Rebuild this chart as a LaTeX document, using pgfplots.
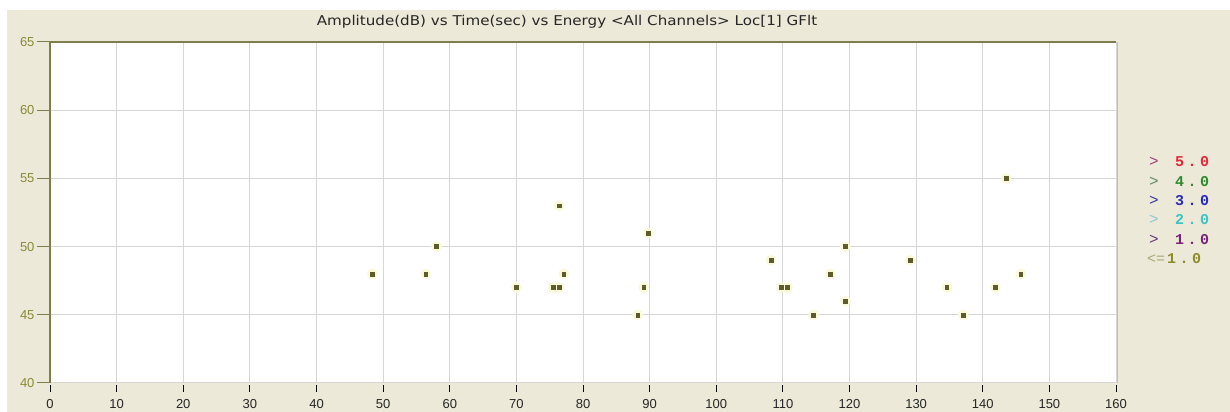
\documentclass[border=0pt]{standalone}
\usepackage{fontspec}
\setmainfont{Liberation Sans}
\newfontfamily\legfont[LetterSpace=23]{Liberation Mono}
\newfontfamily\legplain{Liberation Mono}
\newfontfamily\titlefont{DejaVu Sans}
\usepackage{pgfplots}
\pgfplotsset{compat=1.18}
\definecolor{bgbeige}{HTML}{ECE9D8}
\definecolor{gridgray}{HTML}{D6D6D6}
\definecolor{axolive}{HTML}{7E7E4C}
\definecolor{ticklab}{HTML}{8A8A3A}
\definecolor{ptcol}{HTML}{5C5C2E}
\definecolor{halo}{HTML}{FAFAD8}
\definecolor{lgred}{HTML}{E0283A}
\definecolor{lgredg}{HTML}{A0407A}
\definecolor{lggreen}{HTML}{2E8A2E}
\definecolor{lggreeng}{HTML}{5E8A6E}
\definecolor{lgblue}{HTML}{2A2AB8}
\definecolor{lgblueg}{HTML}{3A3A9A}
\definecolor{lgcyan}{HTML}{3CC4C4}
\definecolor{lgcyang}{HTML}{8EC8D0}
\definecolor{lgpurple}{HTML}{7A2478}
\definecolor{lgpurpleg}{HTML}{6A3A7A}
\definecolor{lgolive}{HTML}{8C8C2C}
\definecolor{lgoliveg}{HTML}{A8A878}
\pgfplotstableread{
x y
48.4 48
56.4 48
58.0 50
70.0 47
75.5 47
76.4 47
76.4 53
77.1 48
88.2 45
89.1 47
89.8 51
108.2 49
109.8 47
110.7 47
114.6 45
117.1 48
119.4 50
119.4 46
129.1 49
134.6 47
137.1 45
141.9 47
143.5 55
145.7 48
}\datatable
\begin{document}
\begin{tikzpicture}
\path[use as bounding box] (0,0) rectangle (1230bp,412bp);
\fill[white] (0,0) rectangle (1230bp,412bp);
\fill[bgbeige] (7bp,0) rectangle (1230bp,402bp);
\begin{axis}[
  at={(50bp,29bp)}, anchor=south west,
  scale only axis, width=1066bp, height=341bp,
  xmin=0, xmax=160, ymin=40, ymax=65,
  xtick={0,10,20,30,40,50,60,70,80,90,100,110,120,130,140,150,160},
  ytick={40,45,50,55,60,65},
  xtick pos=bottom, ytick pos=left,
  grid=major,
  major grid style={draw=gridgray, line width=1bp},
  axis background/.style={fill=white},
  axis line style={draw=none},
  major tick length=0bp,
  /pgf/number format/assume math mode=true,
  xticklabel style={font=\fontsize{13bp}{14bp}\selectfont, text=black!85, yshift=-13bp},
  yticklabel style={font=\fontsize{13bp}{14bp}\selectfont, text=ticklab, xshift=-12bp},
  clip=false,
]
\addplot[only marks, mark=*, mark size=5bp, color=halo] table[x=x,y=y] {\datatable};
\addplot[only marks, mark=square*, mark size=1.9bp, color=ptcol] table[x=x,y=y] {\datatable};
\pgfplotsinvokeforeach{0,10,20,30,40,50,60,70,80,90,100,110,120,130,140,150,160}{\draw[black, line width=1bp] ([yshift=-2bp]axis cs:#1,40) -- ([yshift=-9bp]axis cs:#1,40);}
\pgfplotsinvokeforeach{40,45,50,55,60,65}{\draw[axolive, line width=1bp] (axis cs:0,#1) -- ([xshift=-13bp]axis cs:0,#1);}
\draw[axolive, line width=1.3bp] (rel axis cs:0,0) -- (rel axis cs:0,1) -- (rel axis cs:1,1);
\draw[black!25, line width=1bp] ([xshift=1bp]rel axis cs:1,0) -- ([xshift=1bp]rel axis cs:1,1);
\end{axis}
\node[font=\titlefont\fontsize{13.5bp}{15bp}\selectfont, text=black!85, xscale=1.12] at (567bp,390bp) {Amplitude(dB) vs Time(sec) vs Energy <All Channels> Loc[1] GFlt};
\begin{scope}[every node/.style={anchor=west, inner sep=0pt}]
\def\sym#1#2#3{\node[font=\legplain\fontsize{16bp}{16bp}\selectfont, text=#3] at (1149bp,#1) {#2};}
\def\num#1#2#3{\node[font=\legfont\bfseries\fontsize{15bp}{16bp}\selectfont, text=#3] at (1175bp,#1) {#2};}
\sym{250bp}{>}{lgredg}\num{250bp}{5.0}{lgred}
\sym{230bp}{>}{lggreeng}\num{230bp}{4.0}{lggreen}
\sym{211bp}{>}{lgblueg}\num{211bp}{3.0}{lgblue}
\sym{192bp}{>}{lgcyang}\num{192bp}{2.0}{lgcyan}
\sym{172bp}{>}{lgpurpleg}\num{172bp}{1.0}{lgpurple}
\node[font=\legplain\fontsize{15bp}{16bp}\selectfont, text=lgoliveg] at (1147bp,153bp) {<=};
\node[font=\legfont\bfseries\fontsize{15bp}{16bp}\selectfont, text=lgolive] at (1167bp,153bp) {1.0};
\end{scope}
\end{tikzpicture}
\end{document}
